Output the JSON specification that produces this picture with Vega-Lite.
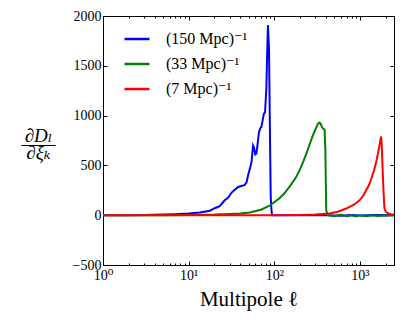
{
  "$schema": "https://vega.github.io/schema/vega-lite/v6.json",
  "width": 291,
  "height": 249,
  "autosize": {"type": "none"},
  "padding": {"left": 103, "top": 16, "right": 21, "bottom": 67},
  "background": "white",
  "config": {
    "view": {"stroke": "black", "strokeWidth": 1},
    "axis": {
      "domain": false,
      "grid": false,
      "tickColor": "black",
      "tickWidth": 1,
      "labelFont": "'Liberation Serif', 'DejaVu Serif', serif",
      "labelFontSize": 14,
      "labelColor": "black",
      "titleFont": "'Liberation Serif', 'DejaVu Serif', serif",
      "titleColor": "black",
      "titleFontWeight": "normal"
    },
    "legend": {
      "labelFont": "'Liberation Serif', 'DejaVu Serif', serif",
      "labelFontSize": 16,
      "labelColor": "black"
    }
  },
  "data": {
    "values": [
      {"l": 1, "v": 0, "s": "(150 Mpc)⁻¹"},
      {"l": 2, "v": 0, "s": "(150 Mpc)⁻¹"},
      {"l": 3, "v": 2, "s": "(150 Mpc)⁻¹"},
      {"l": 5, "v": 6, "s": "(150 Mpc)⁻¹"},
      {"l": 7, "v": 10, "s": "(150 Mpc)⁻¹"},
      {"l": 10, "v": 17, "s": "(150 Mpc)⁻¹"},
      {"l": 13.5, "v": 27, "s": "(150 Mpc)⁻¹"},
      {"l": 17.7, "v": 45, "s": "(150 Mpc)⁻¹"},
      {"l": 20.2, "v": 70, "s": "(150 Mpc)⁻¹"},
      {"l": 23, "v": 90, "s": "(150 Mpc)⁻¹"},
      {"l": 26.4, "v": 150, "s": "(150 Mpc)⁻¹"},
      {"l": 28.8, "v": 175, "s": "(150 Mpc)⁻¹"},
      {"l": 31.6, "v": 225, "s": "(150 Mpc)⁻¹"},
      {"l": 34, "v": 250, "s": "(150 Mpc)⁻¹"},
      {"l": 37.9, "v": 284, "s": "(150 Mpc)⁻¹"},
      {"l": 42, "v": 295, "s": "(150 Mpc)⁻¹"},
      {"l": 45.2, "v": 305, "s": "(150 Mpc)⁻¹"},
      {"l": 47.5, "v": 330, "s": "(150 Mpc)⁻¹"},
      {"l": 49.4, "v": 400, "s": "(150 Mpc)⁻¹"},
      {"l": 52, "v": 470, "s": "(150 Mpc)⁻¹"},
      {"l": 54.2, "v": 535, "s": "(150 Mpc)⁻¹"},
      {"l": 56.6, "v": 700, "s": "(150 Mpc)⁻¹"},
      {"l": 58, "v": 680, "s": "(150 Mpc)⁻¹"},
      {"l": 60, "v": 610, "s": "(150 Mpc)⁻¹"},
      {"l": 61.9, "v": 620, "s": "(150 Mpc)⁻¹"},
      {"l": 64, "v": 720, "s": "(150 Mpc)⁻¹"},
      {"l": 66.3, "v": 836, "s": "(150 Mpc)⁻¹"},
      {"l": 68.5, "v": 870, "s": "(150 Mpc)⁻¹"},
      {"l": 70.7, "v": 887, "s": "(150 Mpc)⁻¹"},
      {"l": 73, "v": 950, "s": "(150 Mpc)⁻¹"},
      {"l": 75.7, "v": 1021, "s": "(150 Mpc)⁻¹"},
      {"l": 78, "v": 1030, "s": "(150 Mpc)⁻¹"},
      {"l": 80.8, "v": 1272, "s": "(150 Mpc)⁻¹"},
      {"l": 82.5, "v": 1600, "s": "(150 Mpc)⁻¹"},
      {"l": 84.3, "v": 1908, "s": "(150 Mpc)⁻¹"},
      {"l": 86.8, "v": 1674, "s": "(150 Mpc)⁻¹"},
      {"l": 88.8, "v": 900, "s": "(150 Mpc)⁻¹"},
      {"l": 90.8, "v": 201, "s": "(150 Mpc)⁻¹"},
      {"l": 92.5, "v": 60, "s": "(150 Mpc)⁻¹"},
      {"l": 94.2, "v": 0, "s": "(150 Mpc)⁻¹"},
      {"l": 120, "v": 0, "s": "(150 Mpc)⁻¹"},
      {"l": 200, "v": 0, "s": "(150 Mpc)⁻¹"},
      {"l": 400, "v": 0, "s": "(150 Mpc)⁻¹"},
      {"l": 600, "v": -5, "s": "(150 Mpc)⁻¹"},
      {"l": 800, "v": 3, "s": "(150 Mpc)⁻¹"},
      {"l": 1000, "v": -3, "s": "(150 Mpc)⁻¹"},
      {"l": 1500, "v": 2, "s": "(150 Mpc)⁻¹"},
      {"l": 2500, "v": 0, "s": "(150 Mpc)⁻¹"},
      {"l": 1, "v": 0, "s": "(33 Mpc)⁻¹"},
      {"l": 5, "v": 0, "s": "(33 Mpc)⁻¹"},
      {"l": 10, "v": 2, "s": "(33 Mpc)⁻¹"},
      {"l": 20, "v": 6, "s": "(33 Mpc)⁻¹"},
      {"l": 30, "v": 12, "s": "(33 Mpc)⁻¹"},
      {"l": 40, "v": 18, "s": "(33 Mpc)⁻¹"},
      {"l": 51.6, "v": 28, "s": "(33 Mpc)⁻¹"},
      {"l": 70, "v": 55, "s": "(33 Mpc)⁻¹"},
      {"l": 88, "v": 95, "s": "(33 Mpc)⁻¹"},
      {"l": 114, "v": 167, "s": "(33 Mpc)⁻¹"},
      {"l": 130, "v": 215, "s": "(33 Mpc)⁻¹"},
      {"l": 150, "v": 284, "s": "(33 Mpc)⁻¹"},
      {"l": 175, "v": 365, "s": "(33 Mpc)⁻¹"},
      {"l": 198, "v": 452, "s": "(33 Mpc)⁻¹"},
      {"l": 220, "v": 545, "s": "(33 Mpc)⁻¹"},
      {"l": 237, "v": 619, "s": "(33 Mpc)⁻¹"},
      {"l": 260, "v": 715, "s": "(33 Mpc)⁻¹"},
      {"l": 283, "v": 803, "s": "(33 Mpc)⁻¹"},
      {"l": 305, "v": 870, "s": "(33 Mpc)⁻¹"},
      {"l": 324, "v": 920, "s": "(33 Mpc)⁻¹"},
      {"l": 338, "v": 930, "s": "(33 Mpc)⁻¹"},
      {"l": 350, "v": 915, "s": "(33 Mpc)⁻¹"},
      {"l": 360, "v": 885, "s": "(33 Mpc)⁻¹"},
      {"l": 370, "v": 870, "s": "(33 Mpc)⁻¹"},
      {"l": 387, "v": 860, "s": "(33 Mpc)⁻¹"},
      {"l": 395, "v": 650, "s": "(33 Mpc)⁻¹"},
      {"l": 404, "v": 50, "s": "(33 Mpc)⁻¹"},
      {"l": 422, "v": 0, "s": "(33 Mpc)⁻¹"},
      {"l": 500, "v": -8, "s": "(33 Mpc)⁻¹"},
      {"l": 600, "v": 5, "s": "(33 Mpc)⁻¹"},
      {"l": 700, "v": -10, "s": "(33 Mpc)⁻¹"},
      {"l": 800, "v": 0, "s": "(33 Mpc)⁻¹"},
      {"l": 900, "v": -12, "s": "(33 Mpc)⁻¹"},
      {"l": 1000, "v": -2, "s": "(33 Mpc)⁻¹"},
      {"l": 1200, "v": -10, "s": "(33 Mpc)⁻¹"},
      {"l": 1400, "v": 0, "s": "(33 Mpc)⁻¹"},
      {"l": 1600, "v": -8, "s": "(33 Mpc)⁻¹"},
      {"l": 1800, "v": -2, "s": "(33 Mpc)⁻¹"},
      {"l": 2000, "v": -5, "s": "(33 Mpc)⁻¹"},
      {"l": 2500, "v": 0, "s": "(33 Mpc)⁻¹"},
      {"l": 1, "v": 0, "s": "(7 Mpc)⁻¹"},
      {"l": 10, "v": 0, "s": "(7 Mpc)⁻¹"},
      {"l": 50, "v": 0, "s": "(7 Mpc)⁻¹"},
      {"l": 100, "v": 0, "s": "(7 Mpc)⁻¹"},
      {"l": 200, "v": 2, "s": "(7 Mpc)⁻¹"},
      {"l": 300, "v": 6, "s": "(7 Mpc)⁻¹"},
      {"l": 443, "v": 17, "s": "(7 Mpc)⁻¹"},
      {"l": 550, "v": 35, "s": "(7 Mpc)⁻¹"},
      {"l": 692, "v": 67, "s": "(7 Mpc)⁻¹"},
      {"l": 850, "v": 105, "s": "(7 Mpc)⁻¹"},
      {"l": 991, "v": 150, "s": "(7 Mpc)⁻¹"},
      {"l": 1100, "v": 200, "s": "(7 Mpc)⁻¹"},
      {"l": 1183, "v": 251, "s": "(7 Mpc)⁻¹"},
      {"l": 1280, "v": 305, "s": "(7 Mpc)⁻¹"},
      {"l": 1360, "v": 368, "s": "(7 Mpc)⁻¹"},
      {"l": 1450, "v": 440, "s": "(7 Mpc)⁻¹"},
      {"l": 1548, "v": 535, "s": "(7 Mpc)⁻¹"},
      {"l": 1620, "v": 615, "s": "(7 Mpc)⁻¹"},
      {"l": 1693, "v": 703, "s": "(7 Mpc)⁻¹"},
      {"l": 1740, "v": 760, "s": "(7 Mpc)⁻¹"},
      {"l": 1771, "v": 790, "s": "(7 Mpc)⁻¹"},
      {"l": 1800, "v": 700, "s": "(7 Mpc)⁻¹"},
      {"l": 1830, "v": 520, "s": "(7 Mpc)⁻¹"},
      {"l": 1852, "v": 402, "s": "(7 Mpc)⁻¹"},
      {"l": 1890, "v": 220, "s": "(7 Mpc)⁻¹"},
      {"l": 1935, "v": 67, "s": "(7 Mpc)⁻¹"},
      {"l": 2000, "v": 35, "s": "(7 Mpc)⁻¹"},
      {"l": 2115, "v": 20, "s": "(7 Mpc)⁻¹"},
      {"l": 2300, "v": 10, "s": "(7 Mpc)⁻¹"},
      {"l": 2500, "v": 7, "s": "(7 Mpc)⁻¹"}
    ]
  },
  "layer": [
    {
      "mark": {"type": "line", "strokeWidth": 2, "clip": true},
      "encoding": {
        "x": {
          "field": "l", "type": "quantitative",
          "scale": {"type": "log", "domain": [1, 2500], "nice": false},
          "axis": {
            "orient": "bottom",
            "values": [1, 10, 100, 1000],
            "labelExpr": "datum.value == 1 ? '10⁰' : datum.value == 10 ? '10¹' : datum.value == 100 ? '10²' : '10³'",
            "tickSize": -4,
            "labelPadding": 7,
            "labelFlush": false,
            "labelOverlap": false,
            "title": "Multipole ℓ",
            "titleFontSize": 21,
            "titleY": 40,
            "titleBaseline": "alphabetic"
          }
        },
        "y": {
          "field": "v", "type": "quantitative",
          "scale": {"domain": [-500, 2000], "nice": false, "zero": false},
          "axis": {
            "orient": "left",
            "values": [-500, 0, 500, 1000, 1500, 2000],
            "format": "d",
            "labelExpr": "replace(datum.label, '-', '−')",
            "tickSize": -4,
            "labelPadding": 6,
            "labelFlush": false,
            "labelOverlap": false,
            "title": ["∂Dₗ", "——", "∂ξₖ"],
            "titleAngle": 0,
            "titleFontSize": 19,
            "titleFontStyle": "italic",
            "titleLineHeight": 8.5,
            "titleAlign": "center",
            "titleBaseline": "middle",
            "titleX": -65,
            "titleY": 119
          }
        },
        "color": {
          "field": "s", "type": "nominal",
          "scale": {"domain": ["(150 Mpc)⁻¹", "(33 Mpc)⁻¹", "(7 Mpc)⁻¹"], "range": ["#0000ff", "#008000", "#ff0000"]},
          "legend": {
            "title": null,
            "orient": "none",
            "legendX": 20,
            "legendY": 9,
            "symbolType": "stroke",
            "symbolSize": 625,
            "symbolStrokeWidth": 2.5,
            "labelOffset": 15,
            "rowPadding": 3,
            "padding": 0
          }
        }
      }
    },
    {
      "mark": {"type": "line", "strokeOpacity": 0},
      "encoding": {
        "x": {
          "field": "l", "type": "quantitative",
          "axis": {
            "orient": "bottom",
            "values": [2, 3, 4, 5, 6, 7, 8, 9, 20, 30, 40, 50, 60, 70, 80, 90, 200, 300, 400, 500, 600, 700, 800, 900, 2000],
            "labels": false,
            "tickSize": -2,
            "title": null
          }
        },
        "y": {
          "field": "v", "type": "quantitative",
          "axis": {
            "orient": "right",
            "values": [-500, 0, 500, 1000, 1500, 2000],
            "labels": false,
            "tickSize": -4,
            "title": null
          }
        }
      }
    },
    {
      "mark": {"type": "line", "strokeOpacity": 0},
      "encoding": {
        "x": {
          "field": "l", "type": "quantitative",
          "axis": {
            "orient": "top",
            "values": [1, 10, 100, 1000],
            "labels": false,
            "tickSize": -4,
            "title": null
          }
        },
        "y": {"field": "v", "type": "quantitative", "axis": null}
      }
    },
    {
      "mark": {"type": "line", "strokeOpacity": 0},
      "encoding": {
        "x": {
          "field": "l", "type": "quantitative",
          "axis": {
            "orient": "top",
            "values": [2, 3, 4, 5, 6, 7, 8, 9, 20, 30, 40, 50, 60, 70, 80, 90, 200, 300, 400, 500, 600, 700, 800, 900, 2000],
            "labels": false,
            "tickSize": -2,
            "title": null
          }
        },
        "y": {"field": "v", "type": "quantitative", "axis": null}
      }
    }
  ],
  "resolve": {"axis": {"x": "independent", "y": "independent"}}
}
